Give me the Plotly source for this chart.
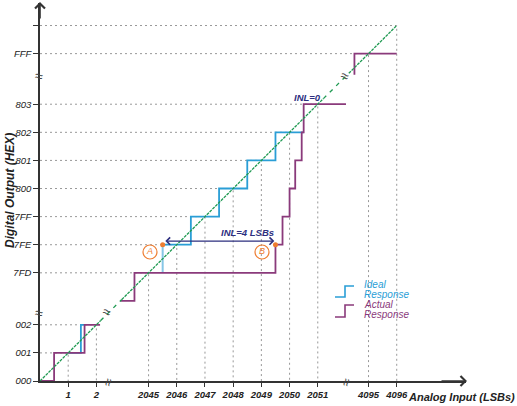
import plotly.graph_objects as go

# Tick values / labels (real LSB values and hex codes)
x_ticks = [1, 2, 2045, 2046, 2047, 2048, 2049, 2050, 2051, 4095, 4096]
y_codes = ['000', '001', '002', '7FD', '7FE', '7FF', '800', '801', '802', '803', 'FFF']

# Ideal response (staircase)
ideal_lo_x = [1.0, 1.45, 1.45, 1.58]
ideal_lo_y = [1, 1, 2, 2]
ideal_mid_x = [2045.5, 2045.5, 2046.5, 2046.5, 2047.5, 2047.5, 2048.5, 2048.5, 2049.5, 2049.5, 2050.5]
ideal_mid_y = [2045, 2046, 2046, 2047, 2047, 2048, 2048, 2049, 2049, 2050, 2050]

# Actual response (staircase)
actual_lo_x = [0, 0.5, 0.5, 1.58, 1.58, 2.13]
actual_lo_y = [0, 0, 1, 1, 2, 2]
actual_mid_x = [2044.0, 2044.5, 2044.5, 2049.5, 2049.5, 2049.75, 2049.75, 2050.0, 2050.0,
                2050.2, 2050.2, 2050.43, 2050.43, 2050.5, 2050.5, 2052.0]
actual_mid_y = [2044, 2044, 2045, 2045, 2046, 2046, 2047, 2047, 2048, 2048,
                2049, 2049, 2050, 2050, 2051, 2051]
actual_hi_x = [4094.5, 4094.5, 4096]
actual_hi_y = [4094.25, 4095, 4095]

# Ideal transfer line y = x (solid parts and parts across the axis breaks)
diag_solid = [0, 2.15, None, 2044.05, 2051.2, None, 4094.3, 4096]
diag_gap = [2.15, 2044.05, None, 2051.2, 4094.3]

# INL points
point_a = (2045.5, 0x7FE)
point_b = (2049.5, 0x7FE)


# broken axis: map real values onto the compressed drawing axis
def comp(v):
    if v is None:
        return None
    if v < 1000:
        return v
    if v < 3000:
        return v - 2045 + 3.85
    return v - 4095 + 11.65


def cl(vals):
    return [comp(v) for v in vals]


# pixel helpers for decorations
PX, PY, X0, Y0 = 28.2, 28.1, 40, 381
W_PLOT, H_PLOT = 426, 378


def px(p):
    return (p - X0) / PX


def py(p):
    return (Y0 - p) / PY


def ppx(p):
    return (p - X0) / W_PLOT


def ppy(p):
    return (Y0 - p) / H_PLOT


FONT = 'Liberation Sans, Arial, sans-serif'
BLUE = '#2a9ed6'
LBLUE = '#86c6e6'
PURPLE = '#8a3a7b'
GREEN = '#1f9a52'
NAVY = '#2d2f7f'
ORANGE = '#ee7d31'

fig = go.Figure()

# dashed guide lines from each tick to the ideal line
gx, gy = [], []
for v in x_ticks:
    u = comp(v)
    gx += [0, u, u, None]
    gy += [u, u, 0, None]
fig.add_trace(go.Scatter(x=gx, y=gy, mode='lines',
                         line=dict(color='#8c8c8c', width=0.9, dash='2px,3px'),
                         hoverinfo='skip'))

# ideal response
fig.add_trace(go.Scatter(x=cl(ideal_lo_x), y=cl(ideal_lo_y), mode='lines',
                         line=dict(color=BLUE, width=1.8)))
fig.add_trace(go.Scatter(x=cl(ideal_mid_x[1:]), y=cl(ideal_mid_y[1:]), mode='lines',
                         line=dict(color=BLUE, width=1.8)))
fig.add_trace(go.Scatter(x=cl(ideal_mid_x[:2]), y=cl(ideal_mid_y[:2]), mode='lines',
                         line=dict(color=LBLUE, width=2)))

# actual response
for xs, ys in [(actual_lo_x, actual_lo_y), (actual_mid_x, actual_mid_y), (actual_hi_x, actual_hi_y)]:
    fig.add_trace(go.Scatter(x=cl(xs), y=cl(ys), mode='lines',
                             line=dict(color=PURPLE, width=1.8)))

# ideal transfer line
fig.add_trace(go.Scatter(x=cl(diag_solid), y=cl(diag_solid), mode='lines',
                         line=dict(color=GREEN, width=1.3, dash='3px,1px')))
fig.add_trace(go.Scatter(x=cl(diag_gap), y=cl(diag_gap), mode='lines',
                         line=dict(color=GREEN, width=1.3, dash='4px,5px')))

# INL points A and B
fig.add_trace(go.Scatter(x=[comp(point_a[0]), comp(point_b[0])],
                         y=[comp(point_a[1]), comp(point_b[1])], mode='markers',
                         marker=dict(color=ORANGE, size=5)))
fig.add_trace(go.Scatter(x=[px(150), px(262)], y=[py(252), py(252)], mode='markers+text',
                         text=['A', 'B'], textposition='middle center',
                         textfont=dict(family=FONT, size=9, color=ORANGE, style='italic'),
                         marker=dict(symbol='circle-open', size=14, color=ORANGE,
                                     line=dict(width=1.2, color=ORANGE))))

annotations = []

# INL arrow between A and B
yarr = comp(point_a[1]) + 0.13
annotations.append(dict(x=comp(point_b[0]) - 0.04, y=yarr, ax=comp(point_a[0]) + 0.04, ay=yarr,
                        xref='x', yref='y', axref='x', ayref='y', text='', showarrow=True,
                        arrowside='end+start', arrowhead=4, arrowsize=1.1, arrowwidth=1.3,
                        arrowcolor=NAVY))
annotations.append(dict(x=px(247), y=py(232), text='INL=4 LSBs', showarrow=False,
                        font=dict(family=FONT, size=9.5, color=NAVY, style='italic', weight='bold')))
annotations.append(dict(x=px(307), y=py(97), text='INL=0', showarrow=False,
                        font=dict(family=FONT, size=9.5, color=NAVY, style='italic', weight='bold')))

# axis arrows
annotations.append(dict(x=0, y=py(2), ax=0, ay=py(20), xref='x', yref='y', axref='x', ayref='y',
                        text='', showarrow=True, arrowhead=4, arrowsize=1.2, arrowwidth=1.6,
                        arrowcolor='#333'))
annotations.append(dict(x=px(467), y=0, ax=px(440), ay=0, xref='x', yref='y', axref='x', ayref='y',
                        text='', showarrow=True, arrowhead=4, arrowsize=1.2, arrowwidth=1.6,
                        arrowcolor='#333'))

# axis titles (paper coordinates, outside the plot area)
annotations.append(dict(x=ppx(10), y=ppy(191), xref='paper', yref='paper',
                        xanchor='center', yanchor='middle',
                        text='Digital Output (HEX)', textangle=-90, showarrow=False,
                        font=dict(family=FONT, size=12, color='#222', style='italic', weight='bold')))
annotations.append(dict(x=ppx(517), y=ppy(397), xref='paper', yref='paper',
                        xanchor='right', yanchor='middle',
                        text='Analog Input (LSBs)', showarrow=False,
                        font=dict(family=FONT, size=11, color='#222', style='italic', weight='bold')))

# axis break marks
for bx, by, ang in [(39, 76, 10), (39, 313, 10), (108, 382, -75), (346, 382, -75),
                    (107, 312, 20), (345, 76, 20)]:
    annotations.append(dict(x=ppx(bx), y=ppy(by), xref='paper', yref='paper',
                            xanchor='center', yanchor='middle',
                            text='\u2248', textangle=ang, showarrow=False,
                            font=dict(family=FONT, size=14, color='#444')))

# legend text
for ty, txt, col in [(284, 'Ideal', BLUE), (294, 'Response', BLUE),
                     (304, 'Actual', PURPLE), (314, 'Response', PURPLE)]:
    annotations.append(dict(x=px(362), y=py(ty), text=txt, xanchor='left', showarrow=False,
                            font=dict(family=FONT, size=10, color=col, style='italic')))

shapes = []
for base, top, col in [(297, 286, BLUE), (317, 305, PURPLE)]:
    shapes.append(dict(type='path', xref='x', yref='y',
                       path='M %f,%f H %f V %f H %f' % (px(335), py(base), px(345), py(top), px(354)),
                       line=dict(color=col, width=1.6)))

y_vals = [int(c, 16) for c in y_codes] + [4096]
y_text = y_codes + ['']

fig.update_layout(
    width=517, height=406,
    margin=dict(l=40, r=51, t=3, b=25, pad=0),
    plot_bgcolor='white', paper_bgcolor='white',
    showlegend=False,
    annotations=annotations,
    shapes=shapes,
    xaxis=dict(range=[0, W_PLOT / PX], showgrid=False, zeroline=False,
               showline=True, linecolor='#333', linewidth=1.6,
               ticks='outside', ticklen=4, tickwidth=1.2, tickcolor='#333',
               tickvals=cl(x_ticks), ticktext=[str(v) for v in x_ticks],
               tickfont=dict(family=FONT, size=9.5, color='#222', style='italic', weight='bold')),
    yaxis=dict(range=[0, H_PLOT / PY], showgrid=False, zeroline=False,
               showline=True, linecolor='#333', linewidth=1.6,
               ticks='outside', ticklen=5, tickwidth=1.2, tickcolor='#333',
               tickvals=cl(y_vals), ticktext=y_text,
               tickfont=dict(family=FONT, size=9.5, color='#222', style='italic')),
)

# page body margin off so the chart sits at the window's corner
fig.write_html("out.html", config={'displayModeBar': False},
               post_script="document.body.style.margin='0';")
